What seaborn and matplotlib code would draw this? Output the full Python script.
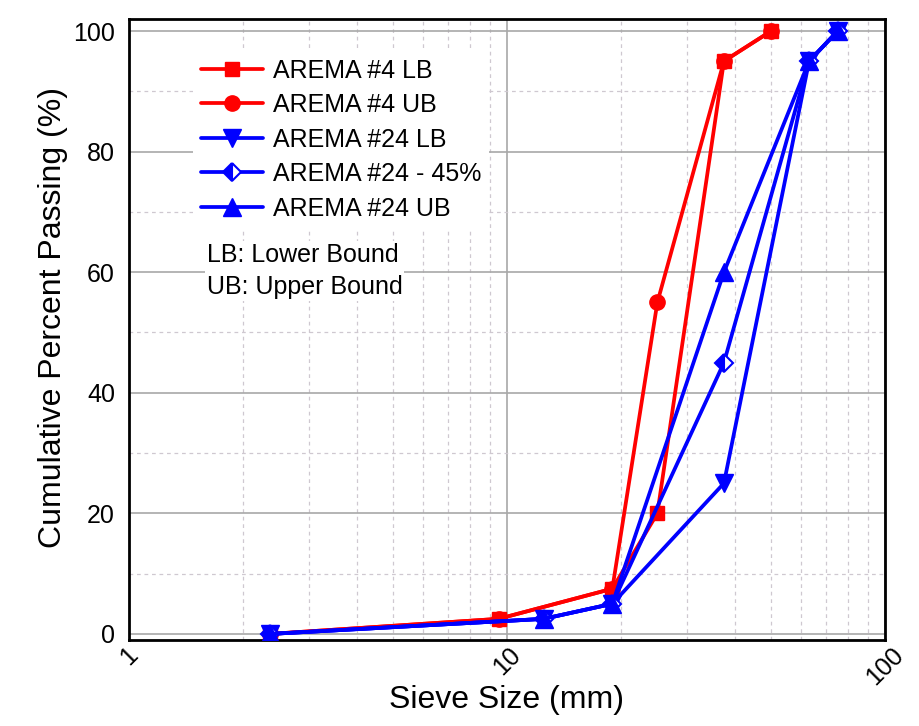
import matplotlib
matplotlib.use("Agg")
import matplotlib.pyplot as plt
from matplotlib.ticker import LogLocator, MultipleLocator, NullFormatter
import seaborn as sns

# Sieve sizes (mm) and cumulative percent passing
sieve_4 = [2.36, 9.5, 19, 25, 37.5, 50]
arema4_lb = [0, 2.5, 7.5, 20, 95, 100]
arema4_ub = [0, 2.5, 7.5, 55, 95, 100]

sieve_24 = [2.36, 12.5, 19, 37.5, 63, 75]
arema24_lb = [0, 2.5, 5, 25, 95, 100]
arema24_45 = [0, 2.5, 5, 45, 95, 100]
arema24_ub = [0, 2.5, 5, 60, 95, 100]

x_ticks = [1, 10, 100]
x_tick_labels = ["1", "10", "100"]
y_ticks = [0, 20, 40, 60, 80, 100]

sns.set_style("white")
plt.rcParams['font.family'] = ['Liberation Sans', 'DejaVu Sans']
plt.rcParams['text.color'] = 'black'
plt.rcParams['axes.labelcolor'] = 'black'

red = '#ff0000'
blue = '#0000ff'

fig = plt.figure(figsize=(9.2, 7.26), dpi=100)
ax = fig.add_axes([0.1402, 0.1185, 0.8217, 0.8554])

common = dict(ax=ax, estimator=None, linewidth=2.7, zorder=3)

sns.lineplot(x=sieve_4, y=arema4_lb, color=red, marker='s', markersize=10.5,
             markeredgecolor=red, markeredgewidth=1, label='AREMA #4 LB', **common)
sns.lineplot(x=sieve_4, y=arema4_ub, color=red, marker='o', markersize=11,
             markeredgecolor=red, markeredgewidth=1, label='AREMA #4 UB', **common)
sns.lineplot(x=sieve_24, y=arema24_lb, color=blue, marker='v', markersize=13,
             markeredgecolor=blue, markeredgewidth=1, label='AREMA #24 LB', **common)
sns.lineplot(x=sieve_24, y=arema24_45, color=blue, marker='D', markersize=9.5,
             fillstyle='left', markerfacecolor=blue, markerfacecoloralt='white',
             markeredgecolor=blue, markeredgewidth=1.5,
             label='AREMA #24 - 45%', **common)
sns.lineplot(x=sieve_24, y=arema24_ub, color=blue, marker='^', markersize=13,
             markeredgecolor=blue, markeredgewidth=1, label='AREMA #24 UB', **common)

# axes
ax.set_xscale('log')
ax.set_xlim(1, 100)
ax.set_ylim(-1, 102)
ax.set_xticks(x_ticks)
ax.set_xticklabels(x_tick_labels, rotation=45, ha='center')
ax.xaxis.set_minor_locator(LogLocator(base=10, subs=range(2, 10)))
ax.xaxis.set_minor_formatter(NullFormatter())
ax.set_yticks(y_ticks)
ax.yaxis.set_minor_locator(MultipleLocator(10))

ax.grid(which='major', color='#a8a8a8', linewidth=1.2, linestyle='-', zorder=0)
ax.grid(which='minor', color='#cfc8d0', linewidth=0.9, linestyle=(0, (3, 3)), zorder=0)
ax.set_axisbelow(True)

ax.tick_params(which='major', direction='in', length=9, width=1.8,
               labelsize=18, colors='black')
ax.tick_params(axis='y', which='major', pad=10)
ax.tick_params(axis='x', which='major', pad=2)
ax.tick_params(which='minor', length=0)

for sp in ax.spines.values():
    sp.set_color('black')
    sp.set_linewidth(2)

ax.set_xlabel('Sieve Size (mm)', fontsize=23, labelpad=-3)
ax.set_ylabel('Cumulative Percent Passing (%)', fontsize=23)
ax.yaxis.set_label_coords(-0.081, 0.52)

ax.legend(loc='upper left', bbox_to_anchor=(0.085, 0.948), fontsize=18,
          frameon=True, facecolor='white', edgecolor='none', framealpha=1,
          handlelength=2.5, handletextpad=0.4, labelspacing=0.42,
          borderpad=0.3, borderaxespad=0)

ax.text(0.103, 0.64, 'LB: Lower Bound\nUB: Upper Bound', transform=ax.transAxes,
        fontsize=18, va='top', ha='left', linespacing=1.45,
        bbox=dict(facecolor='white', edgecolor='none', pad=1), zorder=4)

fig.savefig('out.png', dpi=100)
